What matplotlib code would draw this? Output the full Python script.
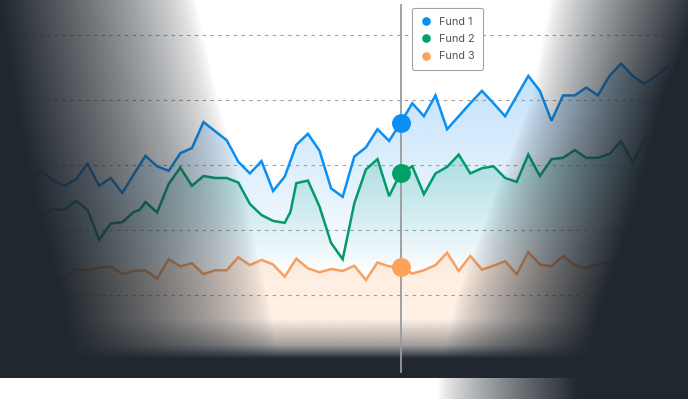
import matplotlib

matplotlib.use("Agg")
import matplotlib.pyplot as plt
from matplotlib.colors import to_rgb
from matplotlib.lines import Line2D
from matplotlib.patches import Polygon
import numpy as np


FUND1_X = list(range(56))
FUND1 = [27.4, 29.2, 27.7, 26.8, 27.8, 30.2, 26.8, 28.0, 25.7, 28.6,
         31.4, 29.8, 29.1, 31.8, 32.6, 36.6, 35.2, 33.8, 30.5, 28.7,
         30.6, 26.0, 28.2, 33.1, 34.8, 32.2, 26.4, 25.1, 31.3, 32.7,
         35.5, 33.7, 36.5, 39.5, 37.5, 40.7, 35.5, 37.5, 39.5, 41.4,
         39.5, 37.5, 40.6, 43.7, 41.4, 36.8, 40.7, 40.7, 41.9, 40.7,
         43.7, 45.6, 43.7, 42.5, 43.7, 45.1]

FUND2_X = [0, 1, 2, 3, 4, 5, 6, 7, 8, 9, 9.5, 10, 11, 12, 13, 14, 15, 16,
           17, 18, 19, 20, 21, 22, 22.5, 23, 24, 25, 26, 27, 28, 29, 30,
           31, 32, 33, 34, 35, 36, 37, 38, 39, 40, 41, 42, 43, 44, 45, 46,
           47, 48, 49, 50, 51, 52, 53, 54]
FUND2 = [24.6, 22.2, 23.2, 23.1, 24.5, 23.1, 18.5, 21.0, 21.2, 22.8, 23.1,
         24.3, 22.7, 27.1, 29.6, 26.8, 28.3, 28.0, 28.0, 27.3, 24.0, 22.3,
         21.4, 21.1, 22.8, 27.2, 27.6, 23.6, 18.0, 15.5, 24.1, 29.3, 30.9,
         25.2, 28.8, 29.8, 25.5, 28.7, 29.7, 31.6, 28.7, 29.5, 29.8, 28.0,
         27.4, 31.6, 28.3, 30.9, 31.1, 32.3, 31.1, 31.1, 31.7, 33.7, 30.4,
         34.1, 34.1]

FUND3_X = list(range(2, 52))
FUND3 = [12.5, 12.6, 14.0, 13.8, 14.2, 14.4, 13.2, 13.7, 13.8, 12.5,
         15.5, 14.4, 14.9, 13.2, 13.8, 13.8, 15.8, 14.6, 15.4, 14.7,
         12.8, 15.6, 14.1, 13.5, 14.0, 13.7, 14.5, 12.3, 15.0, 14.4,
         14.3, 13.3, 13.8, 14.6, 16.5, 13.7, 16.0, 13.9, 14.5, 15.2,
         13.2, 16.6, 14.7, 14.4, 16.0, 14.6, 14.1, 14.8, 15.0, 15.6]

LABELS = ["Fund 1", "Fund 2", "Fund 3"]
HIGHLIGHT = 32
GRID_LEVELS = [10, 20, 30, 40, 50]

LINE_COLORS = ["#0a8ff2", "#05996a", "#f7a062"]
MARKER_COLORS = ["#0a8ff5", "#00a067", "#ffa35a"]
DARK = "#20272e"


def gradient_fill(ax, x, y, floor, color, alpha_stops, zorder):
    x = np.asarray(x, float)
    y = np.asarray(y, float)
    verts = np.column_stack([np.r_[x, x[::-1]], np.r_[y, np.full(len(x), floor)]])
    poly = Polygon(verts, closed=True, facecolor="none", edgecolor="none")
    ax.add_patch(poly)
    top = y.max()
    vals = np.linspace(floor, top, 256)
    img = np.zeros((256, 1, 4))
    img[..., :3] = to_rgb(color)
    img[:, 0, 3] = np.interp(vals, alpha_stops[0], alpha_stops[1])
    im = ax.imshow(img, extent=(x.min(), x.max(), floor, top), origin="lower",
                   aspect="auto", zorder=zorder, interpolation="bilinear")
    im.set_clip_path(poly)


def vignette(h, w):
    # dark fades on left, right and along the bottom, in pixel rows/cols
    rows = np.arange(h, dtype=float)
    xx = np.arange(w, dtype=float)[None, :]

    s = np.interp(rows, [0, 100, 200, 300, 346], [0, 16, 36, 64, 70])[:, None]
    f = np.interp(rows, [0, 100, 200, 300, 346], [195, 218, 245, 268, 276])[:, None]
    left = (1 - np.clip((xx - s) / (f - s), 0, 1)) ** 0.75
    left[rows >= 378] = 0

    g = np.interp(rows, [0, 100, 200, 300, 346, 377, 378], [550, 530, 492, 455, 445, 442, 437])[:, None]
    e = np.interp(rows, [0, 100, 200, 300, 346, 377, 378], [700, 662, 636, 602, 590, 585, 577])[:, None]
    right = np.clip((xx - g) / (e - g), 0, 1) ** 0.8

    band = np.interp(rows, [0, 318, 345, 346, 358, 377, 378, 399],
                     [0, 0, 0.42, 0.5, 1, 1, 0, 0])[:, None]

    alpha = 1 - (1 - left) * (1 - right) * (1 - band)
    img = np.zeros((h, w, 4))
    img[..., :3] = to_rgb(DARK)
    img[..., 3] = alpha
    return img


def main():
    fig = plt.figure(figsize=(6.88, 3.99), dpi=100)
    ax = fig.add_axes([0, 0, 1, 1])
    ax.set_facecolor("white")

    xlim = (-29.5 / 11.6, (688 - 29.5) / 11.6)
    ylim = (-6.0, 55.38)
    floor = 2.0

    gradient_fill(ax, FUND1_X, FUND1, floor, "#1a90f0", ([12, 46], [0.0, 0.28]), 1)
    gradient_fill(ax, FUND2_X, FUND2, floor, "#2fb39c", ([14, 33], [0.0, 0.30]), 1.1)
    gradient_fill(ax, FUND3_X, FUND3, floor, "#ffa35a", ([2, 17], [0.13, 0.2]), 1.2)

    for level in GRID_LEVELS:
        ax.axhline(level, color="#9d9d9d", linewidth=0.8, linestyle=(0, (3, 4)), zorder=2)

    series = [(FUND1_X, FUND1), (FUND2_X, FUND2), (FUND3_X, FUND3)]
    for (xs, ys), color in zip(series, LINE_COLORS):
        ax.plot(xs, ys, color=color, linewidth=1.8, solid_joinstyle="miter", zorder=3)

    ax.imshow(vignette(399, 688), extent=(*xlim, *ylim), origin="upper",
              aspect="auto", zorder=5, interpolation="bilinear")

    ax.axvline(HIGHLIGHT, ymin=1 - 372 / 399, ymax=1 - 5 / 399,
               color="#9a9a9a", linewidth=1.3, zorder=6)
    for (xs, ys), color in zip(series, MARKER_COLORS):
        ax.scatter([HIGHLIGHT], [ys[xs.index(HIGHLIGHT)]], s=185, color=color,
                   linewidths=0, zorder=7)

    ax.set_xlim(*xlim)
    ax.set_ylim(*ylim)
    ax.axis("off")

    handles = [Line2D([], [], marker="o", linestyle="none", markersize=6.2,
                      markerfacecolor=c, markeredgewidth=0) for c in MARKER_COLORS]
    leg = fig.legend(handles, LABELS, loc="upper left",
                     bbox_to_anchor=(412 / 688, 1 - 8 / 399), borderaxespad=0,
                     prop={"family": ["Inter", "DejaVu Sans"], "size": 7.8},
                     labelcolor="#555555", labelspacing=0.68, handlelength=1.0,
                     handletextpad=0.65, borderpad=0.8, framealpha=1,
                     edgecolor="#a3a3a3", fancybox=True)
    leg.get_frame().set_linewidth(0.8)
    leg.set_zorder(10)

    fig.savefig("out.png", dpi=100)
    plt.close(fig)


if __name__ == "__main__":
    main()
